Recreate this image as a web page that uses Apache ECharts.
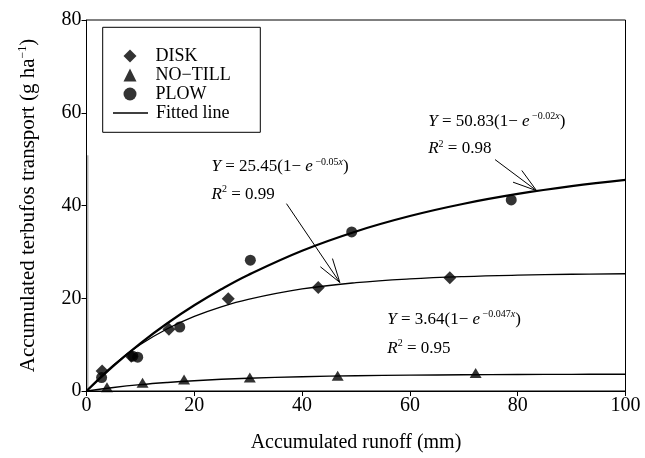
<!DOCTYPE html>
<html><head><meta charset="utf-8">
<script src="https://cdn.jsdelivr.net/npm/echarts@6/dist/echarts.min.js"></script>
<style>html,body{margin:0;padding:0;background:#fff}#c{width:645px;height:458px}</style>
</head><body><div id="c"></div>
<script>
// ---- data ----
const diskPts   = [[2.9,4.3],[8.3,7.5],[15.3,13.3],[26.3,19.9],[43.0,22.3],[67.4,24.4]];
const noTillPts = [[3.8,0.8],[10.4,1.8],[18.1,2.5],[30.3,2.9],[46.6,3.3],[72.2,3.9]];
const plowPts   = [[2.8,2.9],[8.6,7.5],[9.5,7.3],[17.3,13.8],[30.4,28.2],[49.2,34.3],[78.8,41.2]];
// fitted curves as drawn in the reference (read at these x positions)
const fitX      = [0,5,10,15,20,25,30,40,50,60,70,80,90,100];
const diskFit   = [0,5.63,10.01,13.43,16.09,18.16,19.77,22.01,23.36,24.18,24.68,24.98,25.17,25.28];
const plowFit   = [0,5.43,10.28,14.61,18.48,21.94,25.03,30.25,34.41,37.73,40.38,42.49,44.18,45.52];
const noTillFit = [0,0.76,1.37,1.84,2.22,2.52,2.75,3.08,3.29,3.42,3.50,3.56,3.59,3.61];
// faint trace along the y axis in the reference
const edgeTrace = [[0.25,0],[0.25,50.83]];
const xTicks = [0,20,40,60,80,100];
const yTicks = [0,20,40,60,80];
const markerNames = ['DISK','NO−TILL','PLOW'];
const fitName = 'Fitted line';
// equation annotations (data coordinates)
const eqDisk   = {a:'25.45', k:'0.05',  r2:'0.99', eq:[23.2,48.3], r:[23.2,42.3], from:[37.1,40.4], to:[47.0,23.4]};
const eqPlow   = {a:'50.83', k:'0.02',  r2:'0.98', eq:[63.4,58.2], r:[63.4,52.2], from:[75.8,49.9], to:[83.5,43.2]};
const eqNoTill = {a:'3.64',  k:'0.047', r2:'0.95', eq:[55.8,15.5], r:[55.8,9.1]};

const FONT = 'Liberation Serif, Times New Roman, serif';
const pair = (xs, ys) => xs.map((x,i)=>[x, ys[i]]);

const chart = echarts.init(document.getElementById('c'), null, {renderer:'canvas'});
const axisCommon = {
  axisLine:{show:true, onZero:false, lineStyle:{color:'#000', width:1}},
  axisTick:{show:true, inside:false, length:5, lineStyle:{color:'#000'}},
  splitLine:{show:false},
  axisLabel:{color:'#000', fontSize:20, fontFamily:FONT},
  nameTextStyle:{color:'#000', fontSize:20, fontFamily:FONT}
};
const legendText = {color:'#000', fontSize:18, fontFamily:FONT};
chart.setOption({
  animation:false,
  backgroundColor:'#fff',
  grid:{left:86.5, right:19.5, top:20, bottom:63.7, show:true, borderColor:'#000', borderWidth:1, containLabel:false},
  xAxis:Object.assign({}, axisCommon, {
    type:'value', min:xTicks[0], max:xTicks[xTicks.length-1], interval:xTicks[1]-xTicks[0],
    name:'Accumulated runoff (mm)', nameLocation:'middle', nameGap:42,
    axisLabel:Object.assign({}, axisCommon.axisLabel, {margin:5})
  }),
  yAxis:Object.assign({}, axisCommon, {
    type:'value', min:yTicks[0], max:yTicks[yTicks.length-1], interval:yTicks[1]-yTicks[0],
    name:'Accumulated terbufos transport (g ha{sup|−1})', nameLocation:'middle', nameGap:46,
    nameTextStyle:{color:'#000', fontSize:21, fontFamily:FONT, lineHeight:24,
      rich:{sup:{fontSize:12, fontFamily:FONT, color:'#000', lineHeight:12, verticalAlign:'top'}}},
    axisLabel:Object.assign({}, axisCommon.axisLabel, {margin:5})
  }),
  legend:[
    {left:123.5, top:47, orient:'vertical', itemWidth:13, itemHeight:13, itemGap:1, padding:0,
     textStyle:Object.assign({padding:[0,0,0,14]}, legendText), data:markerNames, selectedMode:false,
     itemStyle:{color:'#000', borderWidth:0}},
    {left:113, top:104, orient:'vertical', itemWidth:35, itemHeight:1.4, padding:0,
     textStyle:Object.assign({padding:[0,0,0,3]}, legendText), selectedMode:false,
     data:[{name:fitName, icon:'rect'}], itemStyle:{color:'#000', borderWidth:0}}
  ],
  series:[
    {name:fitName, type:'line', data:pair(fitX, diskFit), symbol:'none', smooth:0.4, itemStyle:{color:'#000'}, lineStyle:{color:'#000', width:1.3}, z:2},
    {name:fitName, type:'line', data:pair(fitX, plowFit), symbol:'none', smooth:0.4, itemStyle:{color:'#000'}, lineStyle:{color:'#000', width:2.2}, z:2},
    {name:fitName, type:'line', data:pair(fitX, noTillFit), symbol:'none', smooth:0.4, itemStyle:{color:'#000'}, lineStyle:{color:'#000', width:1.4}, z:2},
    {name:'trace', type:'line', data:edgeTrace, symbol:'none', itemStyle:{color:'#8a8a8a'}, lineStyle:{color:'#8a8a8a', width:1}, z:1},
    {name:markerNames[0], type:'scatter', data:diskPts, symbol:'diamond', symbolSize:13, itemStyle:{color:'#000'}, z:3},
    {name:markerNames[1], type:'scatter', data:noTillPts, symbol:'triangle', symbolSize:[12,10], itemStyle:{color:'#000'}, z:3},
    {name:markerNames[2], type:'scatter', data:plowPts, symbol:'circle', symbolSize:11, itemStyle:{color:'#000'}, z:3}
  ]
});

// ---- legend frame and annotations ----
const rich = {
  n:{fontSize:17, fontFamily:FONT, color:'#000', lineHeight:20},
  i:{fontSize:17, fontFamily:FONT, fontStyle:'italic', color:'#000', lineHeight:20},
  s:{fontSize:10, fontFamily:FONT, color:'#000', lineHeight:10, verticalAlign:'top'},
  si:{fontSize:10, fontFamily:FONT, fontStyle:'italic', color:'#000', lineHeight:10, verticalAlign:'top'}
};
const px = p => chart.convertToPixel({gridIndex:0}, p);
const els = [
  {type:'rect', z:0, shape:{x:102.7, y:27.3, width:157.6, height:105}, style:{fill:'#fff', stroke:'#000', lineWidth:1}}
];
function addEq(e){
  const p1 = px(e.eq), p2 = px(e.r);
  els.push({type:'text', x:p1[0], y:p1[1], z:10, style:{
    text:'{i|Y}{n| = ' + e.a + '(1− }{i|e}{s| −' + e.k + '}{si|x}{n|)}',
    rich:rich, verticalAlign:'middle', align:'left'}});
  els.push({type:'text', x:p2[0], y:p2[1], z:10, style:{
    text:'{i|R}{s|2}{n| = ' + e.r2 + '}',
    rich:rich, verticalAlign:'middle', align:'left'}});
  if (e.from){
    const a = px(e.from), b = px(e.to);
    const ang = Math.atan2(a[1]-b[1], a[0]-b[0]);
    const L = 25, d = 17*Math.PI/180;
    els.push({type:'polyline', z:10, shape:{points:[a,b]}, style:{stroke:'#000', lineWidth:1, fill:null}});
    els.push({type:'polyline', z:10, shape:{points:[
      [b[0]+L*Math.cos(ang+d), b[1]+L*Math.sin(ang+d)], b,
      [b[0]+L*Math.cos(ang-d), b[1]+L*Math.sin(ang-d)]]}, style:{stroke:'#000', lineWidth:1, fill:null}});
  }
}
[eqDisk, eqPlow, eqNoTill].forEach(addEq);
chart.setOption({graphic:{elements:els}});
</script></body></html>
